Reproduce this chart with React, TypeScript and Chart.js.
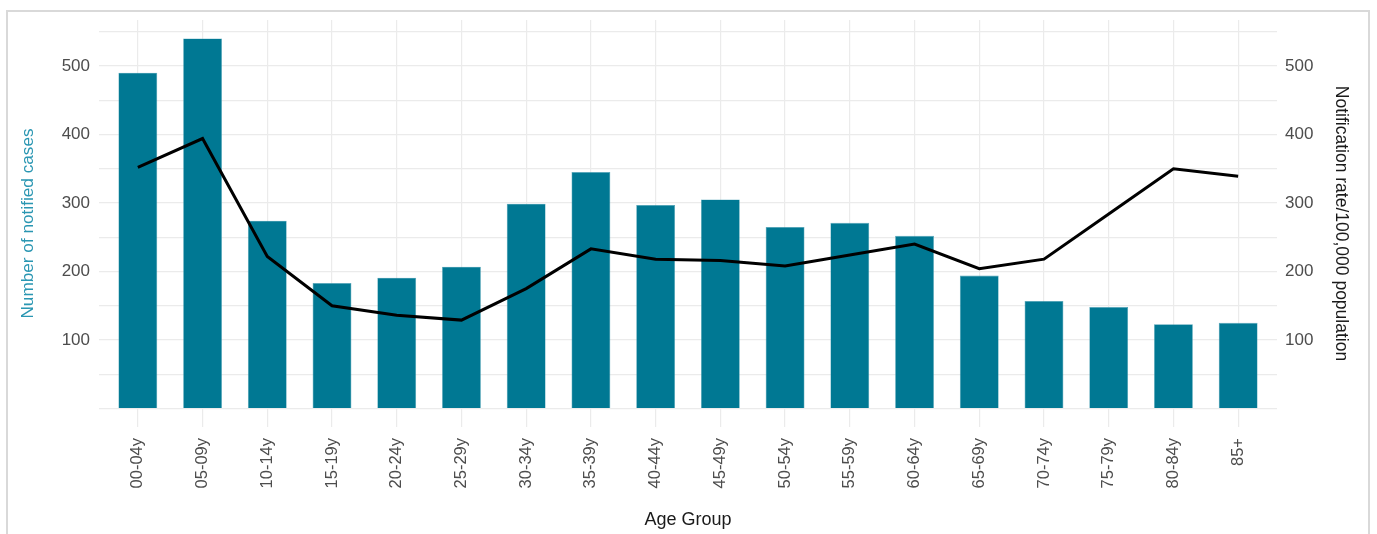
import React, { useEffect, useRef } from "react";
import { Chart, registerables } from "chart.js";

Chart.register(...registerables);

const categories = ["00-04y", "05-09y", "10-14y", "15-19y", "20-24y", "25-29y", "30-34y", "35-39y", "40-44y", "45-49y", "50-54y", "55-59y", "60-64y", "65-69y", "70-74y", "75-79y", "80-84y", "85+"];
const cases = [490, 540, 274, 183, 191, 207, 299, 345, 297, 305, 265, 271, 252, 194, 157, 148, 123, 125];
const rates = [352, 394, 222, 150, 136, 129, 175, 233, 218, 216, 208, 224, 240, 204, 218, 284, 350, 339];
const yTicks = [0, 50, 100, 150, 200, 250, 300, 350, 400, 450, 500, 550];

const FONT = "'Liberation Sans', Arial, sans-serif";
const GRID = "#EBEBEB";
const TICK = "#4D4D4D";

const framePlugin = {
  id: "frame",
  beforeDraw(chart: any) {
    const ctx = chart.ctx;
    ctx.save();
    ctx.fillStyle = "#FFFFFF";
    ctx.fillRect(0, 0, chart.width, chart.height);
    ctx.strokeStyle = "#D9D9D9";
    ctx.lineWidth = 2;
    ctx.strokeRect(7, 11, 1362, 600);
    ctx.restore();
  },
};

const yTickLabel = (v: any) => (v % 100 === 0 && v !== 0 ? String(v) : "");

export default function App() {
  const ref = useRef<HTMLCanvasElement | null>(null);
  useEffect(() => {
    if (!ref.current) return;
    const chart = new Chart(ref.current, {
      type: "bar",
      data: {
        datasets: [
          {
            type: "line",
            data: rates.map((v, i) => ({ x: i, y: v })),
            yAxisID: "y2",
            borderColor: "#000000",
            borderWidth: 3,
            pointRadius: 0,
            tension: 0,
            order: 0,
          } as any,
          {
            type: "bar",
            data: cases.map((v, i) => ({ x: i, y: v })),
            yAxisID: "y",
            backgroundColor: "#007893",
            borderColor: "#4FA3B6",
            borderWidth: 0.6,
            barPercentage: 0.6,
            categoryPercentage: 1,
            order: 1,
          } as any,
        ],
      },
      options: {
        responsive: false,
        animation: false,
        layout: { padding: { top: 20, left: 0, right: 0, bottom: 0 } },
        plugins: { legend: { display: false }, tooltip: { enabled: false } },
        scales: {
          x: {
            type: "linear",
            min: -0.6,
            max: 17.6,
            offset: false,
            afterBuildTicks: (s: any) => {
              s.ticks = categories.map((_, i) => ({ value: i }));
            },
            afterFit: (s: any) => {
              s.height = 107;
            },
            grid: { color: GRID, lineWidth: 1.2, drawTicks: false, offset: false },
            border: { display: false },
            ticks: {
              autoSkip: false,
              maxRotation: 90,
              minRotation: 90,
              padding: 11,
              color: TICK,
              font: { family: FONT, size: 16.5 },
              callback: (v: any) => categories[Math.round(v)] ?? "",
            },
            title: {
              display: true,
              text: "Age Group",
              color: "#1A1A1A",
              font: { family: FONT, size: 18 },
              padding: { top: 3, bottom: 3 },
            },
          },
          y: {
            type: "linear",
            position: "left",
            min: -27,
            max: 567,
            afterBuildTicks: (s: any) => {
              s.ticks = yTicks.map((v) => ({ value: v }));
            },
            afterFit: (s: any) => {
              s.width = 99;
            },
            grid: { color: GRID, lineWidth: 1.2, drawTicks: false },
            border: { display: false },
            ticks: { padding: 9, color: TICK, font: { family: FONT, size: 17 }, callback: yTickLabel },
            title: {
              display: true,
              text: "Number of notified cases",
              color: "#2A96B2",
              font: { family: FONT, size: 17.2 },
              padding: { top: 18, bottom: 0 },
            },
          },
          y2: {
            type: "linear",
            position: "right",
            min: -27,
            max: 567,
            afterBuildTicks: (s: any) => {
              s.ticks = yTicks.map((v) => ({ value: v }));
            },
            afterFit: (s: any) => {
              s.width = 100;
            },
            grid: { drawOnChartArea: false, drawTicks: false },
            border: { display: false },
            ticks: { padding: 8, color: TICK, font: { family: FONT, size: 17 }, callback: yTickLabel },
            title: {
              display: true,
              text: "Notification rate/100,000 population",
              color: "#1A1A1A",
              font: { family: FONT, size: 17.5 },
              padding: { top: 26, bottom: 0 },
            },
          },
        },
      },
      plugins: [framePlugin],
    } as any);
    return () => chart.destroy();
  }, []);
  return (
    <div style={{ position: "absolute", left: 0, top: 0, width: 1377, height: 534 }}>
      <canvas ref={ref} width={1377} height={534} style={{ display: "block" }} />
    </div>
  );
}
